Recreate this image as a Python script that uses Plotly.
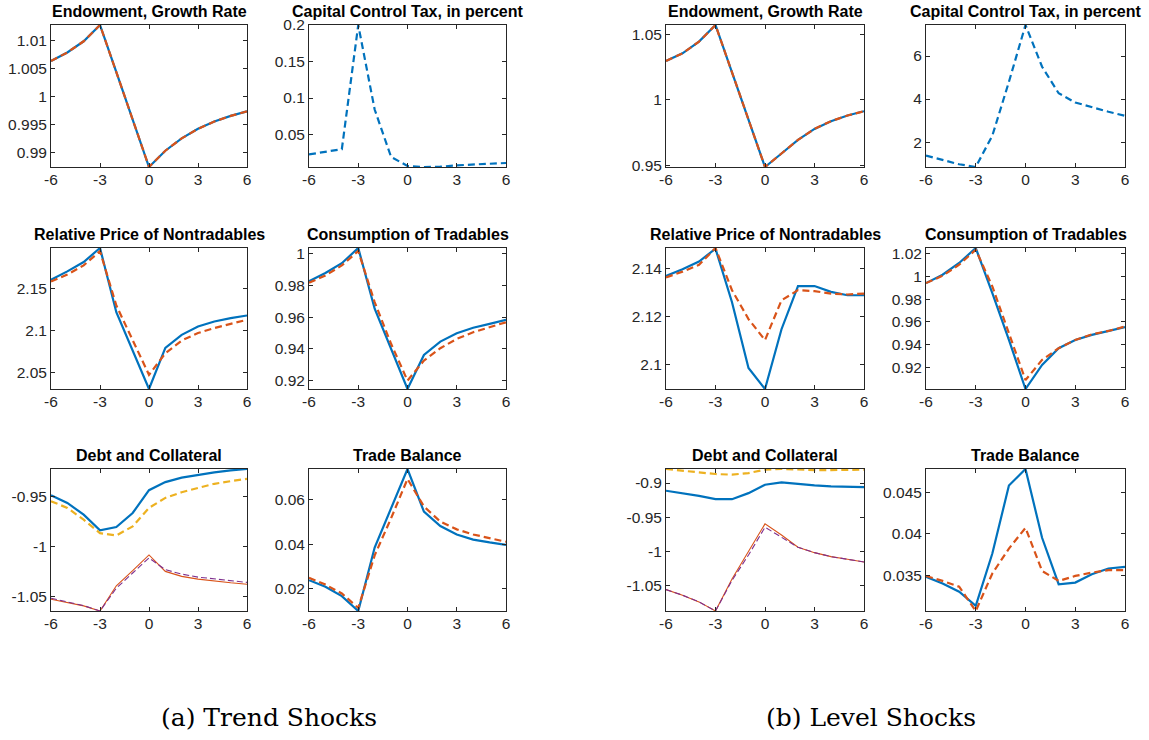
import plotly.graph_objects as go

W, H = 1149, 740
t = [-6, -5, -4, -3, -2, -1, 0, 1, 2, 3, 4, 5, 6]

# ---------------- (a) Trend shocks ----------------
endow_trend = [1.0064, 1.0079, 1.0099, 1.0128, 1.0044, 0.9959, 0.9875, 0.9904, 0.9926, 0.9943, 0.9956, 0.9966, 0.9974]
tax_trend = [0.0228, 0.026, 0.030, 0.2, 0.0843, 0.0194, 0.007, 0.0056, 0.006, 0.0079, 0.009, 0.0097, 0.0111]
price_trend_cc = [2.1608, 2.1708, 2.182, 2.1988, 2.122, 2.076, 2.030, 2.0792, 2.0948, 2.1048, 2.1108, 2.1148, 2.118]
price_trend_ramsey = [2.1588, 2.167, 2.178, 2.195, 2.13, 2.088, 2.047, 2.0728, 2.088, 2.097, 2.103, 2.108, 2.1128]
cons_trend_cc = [0.9827, 0.9878, 0.994, 1.0036, 0.9653, 0.94, 0.9147, 0.9362, 0.9446, 0.9499, 0.9533, 0.9558, 0.9583]
cons_trend_ramsey = [0.9817, 0.9863, 0.9926, 1.0017, 0.9695, 0.9432, 0.92, 0.9326, 0.9404, 0.9463, 0.9505, 0.9537, 0.9568]
debt_trend_cc = [-0.949, -0.9567, -0.9685, -0.9842, -0.9809, -0.9668, -0.944, -0.9359, -0.9315, -0.9285, -0.9262, -0.9242, -0.9228]
debt_trend_ramsey = [-0.955, -0.9617, -0.9735, -0.9869, -0.9893, -0.9802, -0.9617, -0.9517, -0.946, -0.9416, -0.9376, -0.935, -0.9326]
coll_trend_cc = [-1.053, -1.0564, -1.0597, -1.0648, -1.0396, -1.0245, -1.0087, -1.0252, -1.0302, -1.0329, -1.0349, -1.0366, -1.038]
coll_trend_ramsey = [-1.052, -1.0557, -1.0594, -1.0648, -1.042, -1.0268, -1.0117, -1.0235, -1.0279, -1.0309, -1.0329, -1.0346, -1.0362]
tb_trend_cc = [0.0238, 0.0208, 0.0166, 0.0099, 0.0385, 0.056, 0.0739, 0.0547, 0.0482, 0.0444, 0.0421, 0.0408, 0.0397]
tb_trend_ramsey = [0.0249, 0.0218, 0.0178, 0.0113, 0.035, 0.0517, 0.0694, 0.057, 0.0502, 0.0467, 0.0444, 0.0426, 0.0411]

# ---------------- (b) Level shocks ----------------
endow_level = [1.0296, 1.0355, 1.0444, 1.0571, 1.021, 0.985, 0.9487, 0.959, 0.9694, 0.9778, 0.9837, 0.988, 0.9913]
tax_level = [1.375, 1.156, 0.97, 0.844, 2.3, 4.8, 7.44, 5.5, 4.27, 3.84, 3.61, 3.41, 3.22]
price_level_cc = [2.1368, 2.1396, 2.1428, 2.1481, 2.1259, 2.0986, 2.0899, 2.1147, 2.1326, 2.1326, 2.1302, 2.1288, 2.1288]
price_level_ramsey = [2.1362, 2.1386, 2.1414, 2.1484, 2.1309, 2.1189, 2.1102, 2.1267, 2.1309, 2.1305, 2.1295, 2.1291, 2.1295]
cons_level_cc = [0.9941, 1.0015, 1.0118, 1.025, 0.9853, 0.9441, 0.9009, 0.9221, 0.9368, 0.9441, 0.9485, 0.952, 0.9553]
cons_level_ramsey = [0.9941, 1.0006, 1.0103, 1.0235, 0.9912, 0.95, 0.9088, 0.9265, 0.9368, 0.9441, 0.949, 0.952, 0.9559]
debt_level_cc = [-0.9112, -0.9147, -0.9186, -0.9235, -0.9235, -0.9147, -0.9024, -0.899, -0.9015, -0.9034, -0.9049, -0.9054, -0.9059]
debt_level_ramsey = [-0.8795, -0.8815, -0.8844, -0.8868, -0.8878, -0.8854, -0.8805, -0.8795, -0.8805, -0.881, -0.881, -0.881, -0.8805]
coll_level_cc = [-1.0554, -1.0635, -1.0733, -1.0866, -1.04, -1.0, -0.9595, -0.9757, -0.9937, -1.0015, -1.0073, -1.0112, -1.0151]
coll_level_ramsey = [-1.0554, -1.0635, -1.0733, -1.0866, -1.042, -1.005, -0.9644, -0.979, -0.9937, -1.0015, -1.0073, -1.0112, -1.0151]
tb_level_cc = [0.0348, 0.034, 0.033, 0.0313, 0.0376, 0.0458, 0.0478, 0.0395, 0.0339, 0.0341, 0.0351, 0.0358, 0.036]
tb_level_ramsey = [0.0349, 0.0343, 0.0336, 0.03067, 0.0352, 0.0382, 0.0407, 0.0355, 0.0343, 0.0349, 0.0353, 0.0356, 0.0356]

x_ticks = [-6, -3, 0, 3, 6]
titles = ["Endowment, Growth Rate", "Capital Control Tax, in percent",
          "Relative Price of Nontradables", "Consumption of Tradables",
          "Debt and Collateral", "Trade Balance"]
captions = ["(a) Trend Shocks", "(b) Level Shocks"]

BLUE, ORANGE, YELLOW, PURPLE = "#0072BD", "#D95319", "#EDB120", "#7E2F8E"
AXC = "#262626"

# panel boxes in pixels: (x0, x1), (ytop, ybottom)
col_px = [(51, 247), (309, 506), (666, 864), (926, 1125)]
row_px = [(25, 167), (248, 389), (469, 611)]
caption_cx = [269, 871]

ytick_sets = {
    0: [0.99, 0.995, 1, 1.005, 1.01],
    1: [0.05, 0.1, 0.15, 0.2],
    2: [2.05, 2.1, 2.15],
    3: [0.92, 0.94, 0.96, 0.98, 1],
    4: [-1.05, -1, -0.95],
    5: [0.02, 0.04, 0.06],
    6: [0.95, 1, 1.05],
    7: [2, 4, 6],
    8: [2.1, 2.12, 2.14],
    9: [0.92, 0.94, 0.96, 0.98, 1, 1.02],
    10: [-1.05, -1, -0.95, -0.9],
    11: [0.035, 0.04, 0.045],
}

SOLID_W, DASH_W = 2.2, 2.2
dash_thick = "7px,4px"
dash_thin = "6px,3px"

panels = [
    [(endow_trend, BLUE, SOLID_W, "solid"), (endow_trend, ORANGE, DASH_W, dash_thick)],
    [(tax_trend, BLUE, DASH_W, dash_thick)],
    [(price_trend_cc, BLUE, SOLID_W, "solid"), (price_trend_ramsey, ORANGE, DASH_W, dash_thick)],
    [(cons_trend_cc, BLUE, SOLID_W, "solid"), (cons_trend_ramsey, ORANGE, DASH_W, dash_thick)],
    [(debt_trend_cc, BLUE, SOLID_W, "solid"), (debt_trend_ramsey, YELLOW, DASH_W, dash_thick),
     (coll_trend_cc, ORANGE, 1.1, "solid"), (coll_trend_ramsey, PURPLE, 1.1, dash_thin)],
    [(tb_trend_cc, BLUE, SOLID_W, "solid"), (tb_trend_ramsey, ORANGE, DASH_W, dash_thick)],
    [(endow_level, BLUE, SOLID_W, "solid"), (endow_level, ORANGE, DASH_W, dash_thick)],
    [(tax_level, BLUE, DASH_W, dash_thick)],
    [(price_level_cc, BLUE, SOLID_W, "solid"), (price_level_ramsey, ORANGE, DASH_W, dash_thick)],
    [(cons_level_cc, BLUE, SOLID_W, "solid"), (cons_level_ramsey, ORANGE, DASH_W, dash_thick)],
    [(debt_level_cc, BLUE, SOLID_W, "solid"), (debt_level_ramsey, YELLOW, DASH_W, dash_thick),
     (coll_level_cc, ORANGE, 1.1, "solid"), (coll_level_ramsey, PURPLE, 1.1, dash_thin)],
    [(tb_level_cc, BLUE, SOLID_W, "solid"), (tb_level_ramsey, ORANGE, DASH_W, dash_thick)],
]

fig = go.Figure()
annotations = []
layout_axes = {}

for i, series in enumerate(panels):
    group = i // 6
    k = i % 6
    r = k // 2
    c = group * 2 + (k % 2)
    x0, x1 = col_px[c]
    yt, yb = row_px[r]
    n = i + 1
    xa = "x" if n == 1 else f"x{n}"
    ya = "y" if n == 1 else f"y{n}"
    allv = []
    for (yv, col, w, d) in series:
        allv += list(yv)
        fig.add_trace(go.Scatter(x=t, y=yv, mode="lines", xaxis=xa, yaxis=ya,
                                 line=dict(color=col, width=w, dash=d),
                                 showlegend=False, hoverinfo="skip", cliponaxis=True))
    ymin, ymax = min(allv), max(allv)
    common = dict(showline=True, linecolor=AXC, linewidth=1, mirror="ticks",
                  ticks="inside", ticklen=4, tickcolor=AXC, tickwidth=1,
                  showgrid=False, zeroline=False, automargin=False,
                  tickfont=dict(family="Liberation Sans, Arial", size=15.5, color=AXC))
    layout_axes[("xaxis" if n == 1 else f"xaxis{n}")] = dict(
        domain=[x0 / W, x1 / W], anchor=ya, range=[-6, 6],
        tickvals=x_ticks, ticktext=[str(v) for v in x_ticks], ticklabelstandoff=-2, **common)
    yt_vals = ytick_sets[i]
    layout_axes[("yaxis" if n == 1 else f"yaxis{n}")] = dict(
        domain=[1 - yb / H, 1 - yt / H], anchor=xa, range=[ymin, ymax],
        tickvals=yt_vals, ticktext=[f"{v:g}" for v in yt_vals], ticklabelstandoff=0, **common)
    annotations.append(dict(text=f"<b>{titles[k]}</b>", xref="paper", yref="paper",
                            x=(x0 + x1) / 2 / W, y=1 - (yt - 3) / H, xanchor="center", yanchor="bottom",
                            showarrow=False, font=dict(family="Liberation Sans, Arial", size=16, color="#000000")))

for g, cap in enumerate(captions):
    annotations.append(dict(text=cap, xref="paper", yref="paper", x=caption_cx[g] / W, y=1 - 717 / H,
                            xanchor="center", yanchor="middle", showarrow=False,
                            font=dict(family="DejaVu Serif", size=25, color="#000000")))

fig.update_layout(template="none", width=W, height=H, margin=dict(l=0, r=0, t=0, b=0, autoexpand=False),
                  paper_bgcolor="white", plot_bgcolor="white",
                  annotations=annotations, **layout_axes)

fig.write_html("out.html", config={"displayModeBar": False, "staticPlot": True},
               post_script="document.body.style.margin='0px';document.body.style.overflow='hidden';")
